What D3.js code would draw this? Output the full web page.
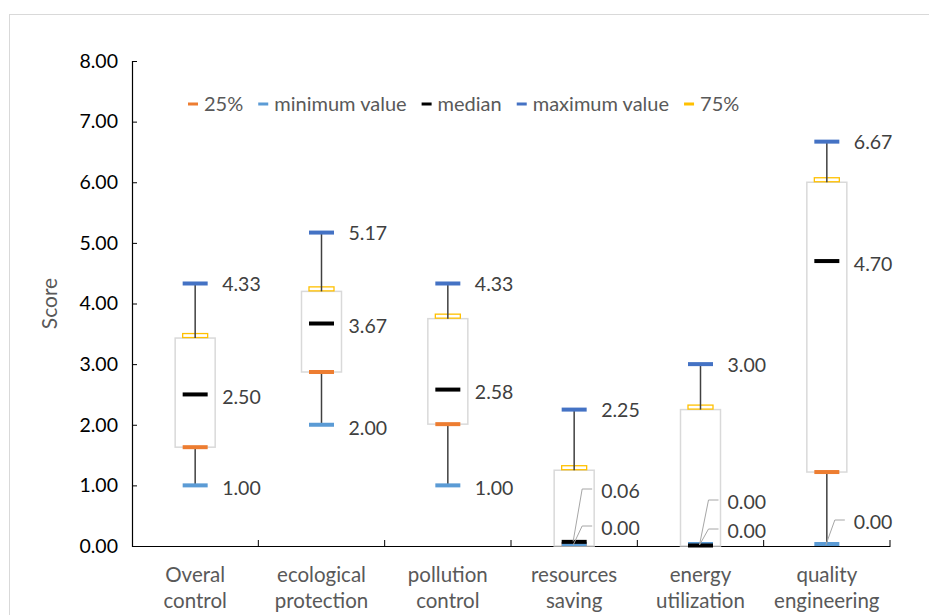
<!DOCTYPE html>
<html>
<head>
<meta charset="utf-8">
<script src="https://cdn.jsdelivr.net/npm/d3@7"></script>
<style>
  body { margin: 0; background: #fff; }
  text { font-family: Lato, "Open Sans", sans-serif; }
</style>
</head>
<body>
<div id="chart"></div>
<script>
// categories and stats
const categories = ["Overal control", "ecological protection", "pollution control", "resources saving", "energy utilization", "quality engineering"];
const catLines = [["Overal", "control"], ["ecological", "protection"], ["pollution", "control"], ["resources", "saving"], ["energy", "utilization"], ["quality", "engineering"]];
const minValues = [1.00, 2.00, 1.00, 0.00, 0.00, 0.00];
const q1Values = [1.63, 2.87, 2.01, 0.00, 0.00, 1.22];
const medianValues = [2.50, 3.67, 2.58, 0.06, 0.00, 4.70];
const q3Values = [3.43, 4.20, 3.75, 1.25, 2.25, 6.00];
const maxValues = [4.33, 5.17, 4.33, 2.25, 3.00, 6.67];
const yTicks = [0, 1, 2, 3, 4, 5, 6, 7, 8];
const legendItems = [
  { name: "25%", color: "#ED7D31" },
  { name: "minimum value", color: "#5B9BD5" },
  { name: "median", color: "#000000" },
  { name: "maximum value", color: "#4472C4" },
  { name: "75%", color: "#FFC000" }
];

const width = 929, height = 615;
const margin = { left: 132, right: 39, top: 61, bottom: 69 };

const svg = d3.select("#chart").append("svg")
  .attr("width", width)
  .attr("height", height);

// chart frame
svg.append("rect")
  .attr("x", 9.5).attr("y", 14.5)
  .attr("width", 940).attr("height", 620)
  .attr("fill", "#fff")
  .attr("stroke", "#d9d9d9");

const x = d3.scaleBand()
  .domain(categories)
  .range([margin.left, width - margin.right]);

const y = d3.scaleLinear()
  .domain([0, 8])
  .range([height - margin.bottom, margin.top]);

// y axis
const yAxis = svg.append("g")
  .attr("transform", `translate(${margin.left},0)`)
  .call(d3.axisLeft(y).tickValues(yTicks).tickFormat(d3.format(".2f")).tickSize(-5).tickPadding(14));
yAxis.select(".domain").attr("stroke", "#000").attr("stroke-width", 1.2);
yAxis.selectAll(".tick line").attr("stroke", "#000");
yAxis.selectAll(".tick text")
  .attr("font-size", 19.5).attr("fill", "#000");

// x axis
const xAxis = svg.append("g")
  .attr("transform", `translate(0,${y(0)})`)
  .call(d3.axisBottom(x).tickSize(0).tickFormat(""));
xAxis.select(".domain").attr("stroke", "#000").attr("stroke-width", 1.2);
xAxis.selectAll(".xb")
  .data(categories)
  .join("line")
  .attr("x1", d => x(d) + x.bandwidth())
  .attr("x2", d => x(d) + x.bandwidth())
  .attr("y1", 0).attr("y2", -6)
  .attr("stroke", "#000");

// category labels
const catText = svg.append("g").selectAll("text")
  .data(categories)
  .join("text")
  .attr("x", d => x(d) + x.bandwidth() / 2)
  .attr("y", y(0) + 36)
  .attr("text-anchor", "middle")
  .attr("font-size", 20.5)
  .attr("fill", "#595959");
catText.selectAll("tspan")
  .data((d, i) => catLines[i])
  .join("tspan")
  .attr("x", function () { return this.parentNode.getAttribute("x"); })
  .attr("dy", (d, i) => i === 0 ? 0 : 26)
  .text(d => d);

// y title
svg.append("text")
  .attr("transform", `translate(57,${y(4)}) rotate(-90)`)
  .attr("text-anchor", "middle")
  .attr("font-size", 21)
  .attr("fill", "#595959")
  .text("Score");

const cx = i => x(categories[i]) + x.bandwidth() / 2;
const boxW = 40, markW = 25, markH = 4;
const idx = d3.range(categories.length);

// boxes
svg.append("g").selectAll("rect")
  .data(idx)
  .join("rect")
  .attr("x", i => cx(i) - boxW / 2)
  .attr("y", i => y(q3Values[i]))
  .attr("width", boxW)
  .attr("height", i => y(q1Values[i]) - y(q3Values[i]))
  .attr("fill", "#fff")
  .attr("stroke", "#d9d9d9")
  .attr("stroke-width", 1.5);

// 75% markers (hollow)
svg.append("g").selectAll("rect")
  .data(idx)
  .join("rect")
  .attr("x", i => cx(i) - markW / 2)
  .attr("y", i => y(q3Values[i]) - markH - 0.5)
  .attr("width", markW)
  .attr("height", markH)
  .attr("fill", "#fff")
  .attr("stroke", "#FFC000")
  .attr("stroke-width", 1.3);

// whiskers
const whisk = svg.append("g").attr("stroke", "#404040").attr("stroke-width", 1.5);
whisk.selectAll(".up")
  .data(idx)
  .join("line")
  .attr("x1", cx).attr("x2", cx)
  .attr("y1", i => y(maxValues[i]))
  .attr("y2", i => y(q3Values[i]));
whisk.selectAll(".down")
  .data(idx.filter(i => q1Values[i] > minValues[i]))
  .join("line")
  .attr("x1", cx).attr("x2", cx)
  .attr("y1", i => y(q1Values[i]))
  .attr("y2", i => y(minValues[i]));

// filled markers
function markers(values, color, offset) {
  svg.append("g").selectAll("rect")
    .data(idx)
    .join("rect")
    .attr("x", i => cx(i) - markW / 2)
    .attr("y", i => y(values[i]) - markH / 2 + offset(i))
    .attr("width", markW)
    .attr("height", markH)
    .attr("fill", color);
}
markers(q1Values, "#ED7D31", i => q1Values[i] === 0 ? -markH / 2 : 0);
markers(minValues, "#5B9BD5", i => minValues[i] === 0 ? -markH / 2 : 0);
markers(medianValues, "#000000", i => medianValues[i] < 0.1 ? -0.5 : 0);
markers(maxValues, "#4472C4", () => 0);

// data labels
const fmt = d3.format(".2f");
const labels = [];
idx.forEach(i => {
  labels.push({ i, v: maxValues[i], dy: 1 });
  if (medianValues[i] > 0.5) labels.push({ i, v: medianValues[i], dy: 3 });
  if (minValues[i] > 0) labels.push({ i, v: minValues[i], dy: 3 });
});
// labels moved away from crowded bottom, with leader lines
const callouts = [
  { i: 3, v: medianValues[3], ly: 491 },
  { i: 3, v: minValues[3], ly: 528 },
  { i: 4, v: medianValues[4], ly: 502 },
  { i: 4, v: minValues[4], ly: 531 },
  { i: 5, v: minValues[5], ly: 522 }
];

svg.append("g").selectAll("text")
  .data(labels)
  .join("text")
  .attr("x", d => cx(d.i) + 27)
  .attr("y", d => y(d.v) + d.dy)
  .attr("dy", "0.35em")
  .attr("font-size", 19.5)
  .attr("fill", "#404040")
  .text(d => fmt(d.v));

const co = svg.append("g");
co.selectAll("path")
  .data(callouts)
  .join("path")
  .attr("d", d => `M${cx(d.i) - 1},${y(d.v) - 1} L${cx(d.i) + 8},${d.ly - 2} L${cx(d.i) + 18},${d.ly - 2}`)
  .attr("fill", "none")
  .attr("stroke", "#a6a6a6")
  .attr("stroke-width", 1);
co.selectAll("text")
  .data(callouts)
  .join("text")
  .attr("x", d => cx(d.i) + 27)
  .attr("y", d => d.ly)
  .attr("dy", "0.35em")
  .attr("font-size", 19.5)
  .attr("fill", "#404040")
  .text(d => fmt(d.v));

// legend
const legend = svg.append("g").attr("transform", "translate(188,104)");
let lx = 0;
legendItems.forEach(item => {
  const g = legend.append("g").attr("transform", `translate(${lx},0)`);
  g.append("rect").attr("x", 0).attr("y", -1.5).attr("width", 10).attr("height", 3).attr("fill", item.color);
  const t = g.append("text").attr("x", 16).attr("dy", "0.35em")
    .attr("font-size", 20).attr("fill", "#595959").text(item.name);
  lx += 16 + t.node().getComputedTextLength() + 15;
});
</script>
</body>
</html>
